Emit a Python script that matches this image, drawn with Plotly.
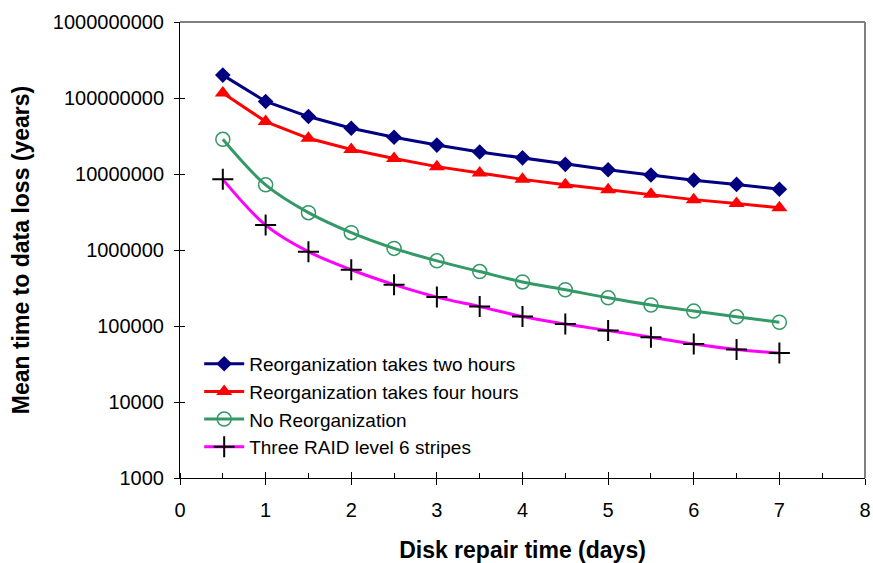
import plotly.graph_objects as go

repair_days = [0.5, 1, 1.5, 2, 2.5, 3, 3.5, 4, 4.5, 5, 5.5, 6, 6.5, 7]
two_hours = [2.0e8, 9.0e7, 5.7e7, 4.0e7, 3.05e7, 2.4e7, 1.95e7, 1.63e7, 1.34e7, 1.14e7, 9.7e6, 8.3e6, 7.3e6, 6.3e6]
four_hours = [1.16e8, 4.9e7, 2.95e7, 2.1e7, 1.6e7, 1.25e7, 1.03e7, 8.5e6, 7.2e6, 6.2e6, 5.4e6, 4.6e6, 4.1e6, 3.6e6]
no_reorg = [2.86e7, 7.2e6, 3.1e6, 1.69e6, 1.05e6, 7.2e5, 5.2e5, 3.8e5, 3.0e5, 2.35e5, 1.89e5, 1.57e5, 1.32e5, 1.12e5]
raid6 = [8.5e6, 2.13e6, 9.5e5, 5.5e5, 3.5e5, 2.4e5, 1.8e5, 1.33e5, 1.06e5, 8.7e4, 7.1e4, 5.8e4, 4.9e4, 4.4e4]

names = ["Reorganization takes two hours", "Reorganization takes four hours",
         "No Reorganization", "Three RAID level 6 stripes"]
y_tickvals = [1e3, 1e4, 1e5, 1e6, 1e7, 1e8, 1e9]
y_ticktext = ["1000", "10000", "100000", "1000000", "10000000", "100000000", "1000000000"]
x_tickvals = [0, 1, 2, 3, 4, 5, 6, 7, 8]

FONT = "Arial, Liberation Sans, sans-serif"

fig = go.Figure()
fig.add_trace(go.Scatter(x=repair_days, y=two_hours, name=names[0], mode="lines+markers",
                         line=dict(color="#000080", width=3),
                         marker=dict(symbol="diamond", size=12, color="#000080")))
fig.add_trace(go.Scatter(x=repair_days, y=four_hours, name=names[1], mode="lines+markers",
                         line=dict(color="#FF0000", width=3),
                         marker=dict(symbol="triangle-up", size=14, color="#FF0000")))
fig.add_trace(go.Scatter(x=repair_days, y=no_reorg, name=names[2], mode="lines+markers",
                         line=dict(color="#339966", width=3, shape="spline", smoothing=1),
                         marker=dict(symbol="circle-open", size=14, color="#339966",
                                     line=dict(width=1.5, color="#339966"))))
fig.add_trace(go.Scatter(x=repair_days, y=raid6, name=names[3], mode="lines+markers",
                         line=dict(color="#FF00FF", width=3, shape="spline", smoothing=1),
                         marker=dict(symbol="cross-thin", size=15, color="black",
                                     line=dict(width=2, color="black"))))
# dummy trace for secondary (inside) tick axes
fig.add_trace(go.Scatter(x=[None], y=[None], xaxis="x2", yaxis="y2", showlegend=False,
                         hoverinfo="skip"))

fig.update_layout(
    width=873, height=563,
    margin=dict(l=180, r=8, t=22, b=85),
    paper_bgcolor="white", plot_bgcolor="white",
    font=dict(family=FONT, size=20, color="black"),
    showlegend=True,
    legend=dict(x=0.028, y=0.292, xanchor="left", yanchor="top",
                bgcolor="rgba(0,0,0,0)", font=dict(size=19, family=FONT),
                tracegroupgap=0, itemwidth=40),
    xaxis=dict(range=[0, 8], tickvals=x_tickvals, ticks="outside", ticklen=6,
               tickcolor="black", tickwidth=1, showline=True, linecolor="black",
               linewidth=1, showgrid=False, zeroline=False, automargin=False,
               ticklabeloverflow="allow",
               minor=dict(ticks="inside", ticklen=5, dtick=0.5, tick0=0, tickcolor="black",
                          showgrid=False),
               tickfont=dict(size=20), ticklabelstandoff=8,
               title=dict(text="<b>Disk repair time (days)</b>", font=dict(size=23),
                          standoff=28)),
    yaxis=dict(type="log", range=[3, 9], tickvals=y_tickvals, ticktext=y_ticktext,
               ticks="outside", ticklen=5, tickcolor="black", tickwidth=1,
               showline=True, linecolor="black", linewidth=1, showgrid=False,
               zeroline=False, tickfont=dict(size=20), ticklabelstandoff=6,
               automargin=False, ticklabeloverflow="allow",
               title=dict(text="<b>Mean time to data loss (years)</b>", font=dict(size=23),
                          standoff=16)),
    xaxis2=dict(range=[0, 8], tickvals=x_tickvals, ticks="inside", ticklen=6,
                tickcolor="black", showticklabels=False, showline=False, showgrid=False,
                zeroline=False, overlaying="x", anchor="y2", automargin=False),
    yaxis2=dict(type="log", range=[3, 9], tickvals=y_tickvals, ticks="inside", ticklen=5,
                tickcolor="black", showticklabels=False, showline=False, showgrid=False,
                zeroline=False, overlaying="y", anchor="x2", automargin=False),
    shapes=[
        dict(type="line", xref="paper", yref="paper", x0=0, x1=1, y0=1, y1=1,
             line=dict(color="#808080", width=2)),
        dict(type="line", xref="paper", yref="paper", x0=1, x1=1, y0=0, y1=1,
             line=dict(color="#808080", width=2)),
    ],
)

fig.write_html("out.html", config={"displayModeBar": False},
               post_script="document.body.style.margin='0';document.body.style.overflow='hidden';")
